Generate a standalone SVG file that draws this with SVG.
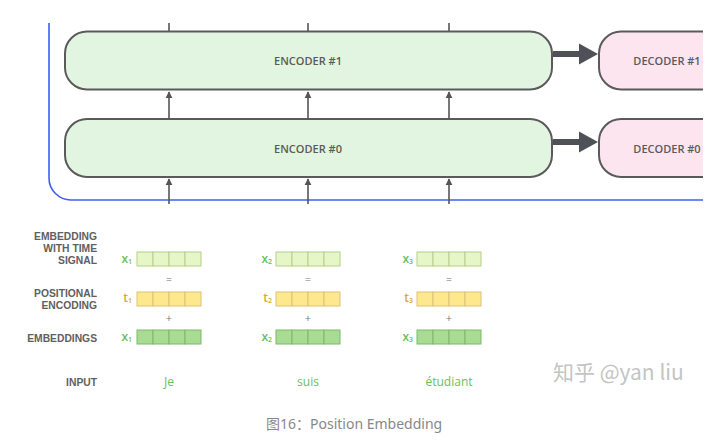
<svg xmlns="http://www.w3.org/2000/svg" width="713" height="444" viewBox="0 0 713 444">
<defs>
<style>
.box{stroke:#5a5a5a;stroke-width:2}
.enc{fill:#e2f5e1}
.dec{fill:#fde5ef}
.lbl{font-family:"Open Sans","Liberation Sans",sans-serif;font-weight:600;font-size:11px;fill:#5a5a5a;text-anchor:middle}
.side{font-family:"Liberation Sans",Arial,sans-serif;font-weight:bold;font-size:10.3px;fill:#606060;text-anchor:end}
.thin{stroke:#555;stroke-width:1.6;fill:none}
.thick{fill:#4e5157}
.c1{fill:#e6f6c6;stroke:#b5cf8c;stroke-width:1}
.c2{fill:#fde88e;stroke:#d9c37a;stroke-width:1}
.c3{fill:#a8dc93;stroke:#7cb96b;stroke-width:1}
.vx{font-family:"Open Sans","Liberation Sans",sans-serif;font-weight:600;font-size:12px;fill:#6cc05a;text-anchor:end}
.vt{font-family:"Open Sans","Liberation Sans",sans-serif;font-weight:600;font-size:12px;fill:#d4a83a;text-anchor:end}
.op{font-family:"Open Sans","Liberation Sans",sans-serif;font-size:11px;fill:#777;text-anchor:middle}
.word{font-family:"Open Sans","Liberation Sans",sans-serif;font-size:12px;fill:#6cc05a;text-anchor:middle}
</style>
<marker id="ah" viewBox="0 0 10 10" refX="9" refY="5" markerWidth="4.5" markerHeight="4.5" orient="auto">
<path d="M0,0 L10,5 L0,10 z" fill="#555"/>
</marker>
<clipPath id="clip"><rect x="0" y="0" width="703" height="444"/></clipPath>
</defs>
<rect width="713" height="444" fill="#fff"/>
<g clip-path="url(#clip)">
<path id="frame" d="M49,23 V178 A22,22 0 0 0 71,200 H703" fill="none" stroke="#3f5ff0" stroke-width="1.6"/>
<g id="encoder1">
<rect class="box enc" x="65" y="31.5" width="487" height="58" rx="22"/>
<text class="lbl" x="308" y="65">ENCODER #1</text>
</g>
<g id="encoder0">
<rect class="box enc" x="65" y="119" width="487" height="58" rx="22"/>
<text class="lbl" x="308" y="152.5">ENCODER #0</text>
</g>
<g id="decoder1">
<rect class="box dec" x="599" y="31.5" width="140" height="58" rx="22"/>
<text class="lbl" x="667" y="65">DECODER #1</text>
</g>
<g id="decoder0">
<rect class="box dec" x="599" y="119" width="140" height="58" rx="22"/>
<text class="lbl" x="667" y="152.5">DECODER #0</text>
</g>
<g id="connectors">
<line class="thin" x1="169" y1="23" x2="169" y2="31"/>
<line class="thin" x1="308" y1="23" x2="308" y2="31"/>
<line class="thin" x1="449" y1="23" x2="449" y2="31"/>
<line class="thin" x1="169" y1="119" x2="169" y2="92" marker-end="url(#ah)"/>
<line class="thin" x1="308" y1="119" x2="308" y2="92" marker-end="url(#ah)"/>
<line class="thin" x1="449" y1="119" x2="449" y2="92" marker-end="url(#ah)"/>
<line class="thin" x1="169" y1="204" x2="169" y2="179" marker-end="url(#ah)"/>
<line class="thin" x1="308" y1="204" x2="308" y2="179" marker-end="url(#ah)"/>
<line class="thin" x1="449" y1="204" x2="449" y2="179" marker-end="url(#ah)"/>
<path class="thick" d="M553,51 H579 V43.5 L598,54 L579,64.5 V57 H553 z"/>
<path class="thick" d="M553,139 H579 V131.5 L598,142 L579,152.5 V145 H553 z"/>
</g>
</g>
<g id="row-labels">
<text class="side" x="97" y="240">EMBEDDING</text>
<text class="side" x="97" y="252">WITH TIME</text>
<text class="side" x="97" y="264">SIGNAL</text>
<text class="side" x="97" y="297">POSITIONAL</text>
<text class="side" x="97" y="309">ENCODING</text>
<text class="side" x="97" y="342">EMBEDDINGS</text>
<text class="side" x="97" y="386">INPUT</text>
</g>
<g id="col1">
<text class="vx" x="132" y="263">x<tspan font-size="7" dy="1">1</tspan></text>
<g transform="translate(137,252)"><rect class="c1" x="0" y="0" width="16" height="14"/><rect class="c1" x="16" y="0" width="16" height="14"/><rect class="c1" x="32" y="0" width="16" height="14"/><rect class="c1" x="48" y="0" width="16" height="14"/></g>
<text class="op" x="169" y="283">=</text>
<text class="vt" x="132" y="302">t<tspan font-size="7" dy="1">1</tspan></text>
<g transform="translate(137,292)"><rect class="c2" x="0" y="0" width="16" height="14"/><rect class="c2" x="16" y="0" width="16" height="14"/><rect class="c2" x="32" y="0" width="16" height="14"/><rect class="c2" x="48" y="0" width="16" height="14"/></g>
<text class="op" x="169" y="322">+</text>
<text class="vx" x="132" y="341">x<tspan font-size="7" dy="1">1</tspan></text>
<g transform="translate(137,330)"><rect class="c3" x="0" y="0" width="16" height="14"/><rect class="c3" x="16" y="0" width="16" height="14"/><rect class="c3" x="32" y="0" width="16" height="14"/><rect class="c3" x="48" y="0" width="16" height="14"/></g>
<text class="word" x="169" y="386">Je</text>
</g>
<g id="col2">
<text class="vx" x="272" y="263">x<tspan font-size="7" dy="1">2</tspan></text>
<g transform="translate(276,252)"><rect class="c1" x="0" y="0" width="16" height="14"/><rect class="c1" x="16" y="0" width="16" height="14"/><rect class="c1" x="32" y="0" width="16" height="14"/><rect class="c1" x="48" y="0" width="16" height="14"/></g>
<text class="op" x="308" y="283">=</text>
<text class="vt" x="272" y="302">t<tspan font-size="7" dy="1">2</tspan></text>
<g transform="translate(276,292)"><rect class="c2" x="0" y="0" width="16" height="14"/><rect class="c2" x="16" y="0" width="16" height="14"/><rect class="c2" x="32" y="0" width="16" height="14"/><rect class="c2" x="48" y="0" width="16" height="14"/></g>
<text class="op" x="308" y="322">+</text>
<text class="vx" x="272" y="341">x<tspan font-size="7" dy="1">2</tspan></text>
<g transform="translate(276,330)"><rect class="c3" x="0" y="0" width="16" height="14"/><rect class="c3" x="16" y="0" width="16" height="14"/><rect class="c3" x="32" y="0" width="16" height="14"/><rect class="c3" x="48" y="0" width="16" height="14"/></g>
<text class="word" x="308" y="386">suis</text>
</g>
<g id="col3">
<text class="vx" x="413" y="263">x<tspan font-size="7" dy="1">3</tspan></text>
<g transform="translate(417,252)"><rect class="c1" x="0" y="0" width="16" height="14"/><rect class="c1" x="16" y="0" width="16" height="14"/><rect class="c1" x="32" y="0" width="16" height="14"/><rect class="c1" x="48" y="0" width="16" height="14"/></g>
<text class="op" x="449" y="283">=</text>
<text class="vt" x="413" y="302">t<tspan font-size="7" dy="1">3</tspan></text>
<g transform="translate(417,292)"><rect class="c2" x="0" y="0" width="16" height="14"/><rect class="c2" x="16" y="0" width="16" height="14"/><rect class="c2" x="32" y="0" width="16" height="14"/><rect class="c2" x="48" y="0" width="16" height="14"/></g>
<text class="op" x="449" y="322">+</text>
<text class="vx" x="413" y="341">x<tspan font-size="7" dy="1">3</tspan></text>
<g transform="translate(417,330)"><rect class="c3" x="0" y="0" width="16" height="14"/><rect class="c3" x="16" y="0" width="16" height="14"/><rect class="c3" x="32" y="0" width="16" height="14"/><rect class="c3" x="48" y="0" width="16" height="14"/></g>
<text class="word" x="449" y="386">étudiant</text>
</g>
<text id="watermark" x="553" y="380" font-family="'Noto Sans CJK SC',sans-serif" font-size="21" fill="#c4c4c4">知乎 @yan liu</text>
<text id="caption" x="266" y="429" font-family="'Noto Sans','Noto Sans CJK SC',sans-serif" font-size="14" fill="#888">图16：Position Embedding</text>
</svg>
